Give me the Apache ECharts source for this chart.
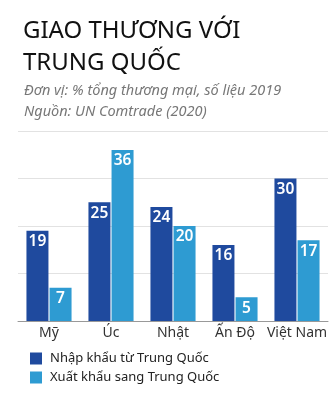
<!DOCTYPE html>
<html>
<head>
<meta charset="utf-8">
<script src="https://cdn.jsdelivr.net/npm/echarts@6/dist/echarts.min.js"></script>
<style>
  html, body { margin: 0; padding: 0; background: #fff; }
  #chart { width: 333px; height: 395px; }
</style>
</head>
<body>
<div id="chart"></div>
<script>
// Trade with China, % of total trade (2019)
const countries = ['Mỹ', 'Úc', 'Nhật', 'Ấn Độ', 'Việt Nam'];
const importsFromChina = [19, 25, 24, 16, 30];
const exportsToChina = [7, 36, 20, 5, 17];
const seriesNames = ['Nhập khẩu từ Trung Quốc', 'Xuất khẩu sang Trung Quốc'];
const colors = ['#1f4a9e', '#2e9bd2'];

const font = '"Noto Sans", "Open Sans", sans-serif';
const chart = echarts.init(document.getElementById('chart'), null, { renderer: 'canvas' });

const barLabel = {
  show: true,
  position: 'insideTop',
  distance: 3,
  color: '#fff',
  fontFamily: font,
  fontSize: 15.5,
  fontWeight: 600
};

chart.setOption({
  animation: false,
  color: colors,
  title: [
    {
      text: 'GIAO THƯƠNG VỚI\nTRUNG QUỐC',
      left: 18, top: 10,
      textStyle: { fontFamily: font, fontSize: 24, fontWeight: 'normal', color: '#111', lineHeight: 32 }
    },
    {
      text: 'Đơn vị: % tổng thương mại, số liệu 2019\nNguồn: UN Comtrade (2020)',
      left: 19, top: 75,
      textStyle: { fontFamily: font, fontSize: 14.5, fontStyle: 'italic', fontWeight: 'normal', color: '#777', lineHeight: 21 }
    }
  ],
  legend: {
    orient: 'vertical',
    left: 30, top: 352,
    height: 43,
    padding: 0,
    itemWidth: 12, itemHeight: 12, itemGap: 6,
    icon: 'rect',
    textStyle: { fontFamily: font, fontSize: 13, color: '#222', padding: [0, 0, 0, 3] },
    data: seriesNames
  },
  grid: { left: 18, right: 5, top: 131, bottom: 74, containLabel: false },
  xAxis: {
    type: 'category',
    data: countries,
    axisLine: { lineStyle: { color: '#999' } },
    axisTick: { show: false },
    axisLabel: { interval: 0, fontFamily: font, fontSize: 14, color: '#333', margin: 5 }
  },
  yAxis: {
    type: 'value',
    min: 0, max: 40, interval: 10,
    axisLabel: { show: false },
    axisLine: { show: false },
    axisTick: { show: false },
    splitLine: { lineStyle: { color: '#e2e2e2' } }
  },
  series: [
    { name: seriesNames[0], type: 'bar', data: importsFromChina, barWidth: 22, barGap: '5%', label: barLabel },
    { name: seriesNames[1], type: 'bar', data: exportsToChina, barWidth: 22, label: barLabel }
  ]
});
</script>
</body>
</html>
